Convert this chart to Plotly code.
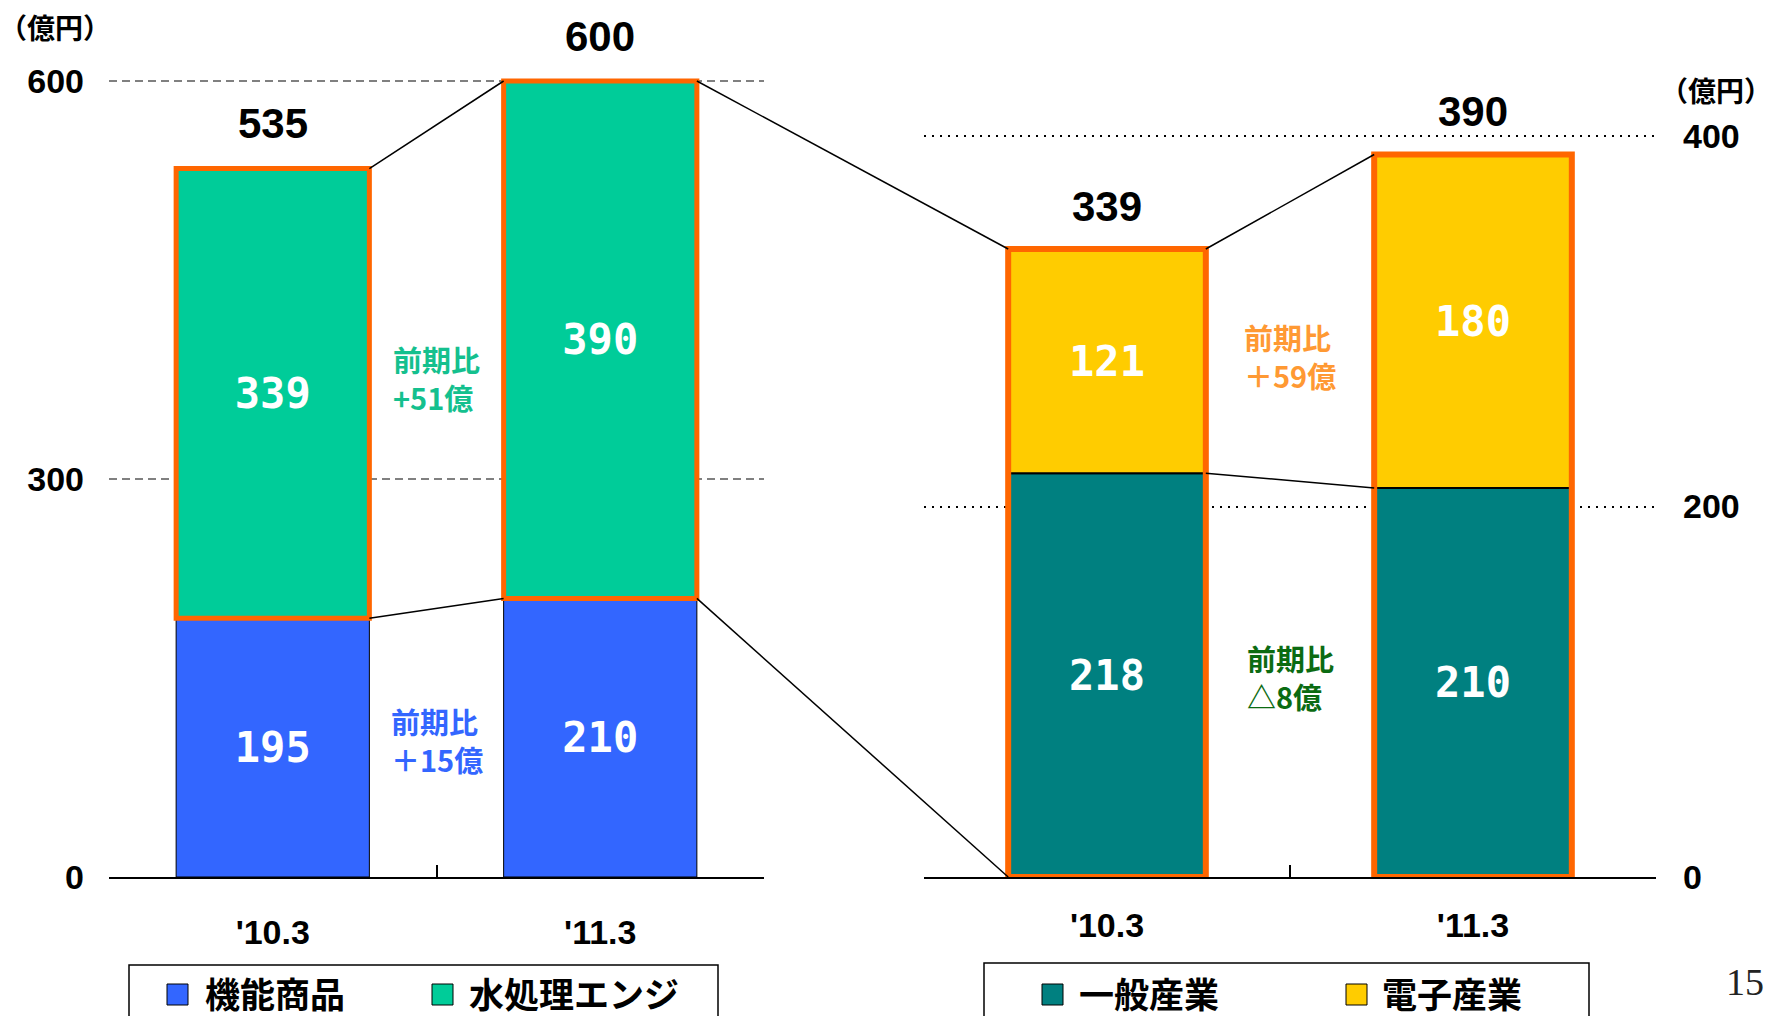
import plotly.graph_objects as go

# ---------------- data ----------------
categories = ["'10.3", "'11.3"]
left_series = ["機能商品", "水処理エンジ"]
functional = [195, 210]
water = [339, 390]
left_totals = [535, 600]
right_series = ["一般産業", "電子産業"]
general = [218, 210]
electronic = [121, 180]
right_totals = [339, 390]
left_ticks = [0, 300, 600]
right_ticks = [0, 200, 400]
left_notes = ["前期比<br>+51億", "前期比<br>＋15億"]
left_note_values = [376, 103]
right_notes = ["前期比<br>＋59億", "前期比<br>△8億"]
right_note_values = [281, 108]
unit_label = "（億円）"
page_number = "15"

# ---------------- layout constants ----------------
W, H = 1765, 1016
BASE_PX = 877
LX = (109, 764)
RX = (924, 1656)
L_RANGE = BASE_PX / ((BASE_PX - 81) / 600)
R_RANGE = BASE_PX / ((BASE_PX - 136) / 400)
LW, RW = 0.59, 0.54

BLUE, GREEN, TEAL, YELLOW, ORANGE = "#3366FF", "#00CC99", "#008080", "#FFCC00", "#FF6600"
NUM = "Liberation Sans, Arial, sans-serif"
MONO = "DejaVu Sans Mono, Liberation Mono, monospace"
JP = "Noto Sans CJK JP, sans-serif"


def px_x(dom, pos):
    return (dom[0] + (pos + 0.5) / len(categories) * (dom[1] - dom[0])) / W


def px_y(rng, val):
    return (H - BASE_PX + val / rng * BASE_PX) / H


left_top = [a + b for a, b in zip(functional, water)]
right_top = [a + b for a, b in zip(general, electronic)]

fig = go.Figure()
inside_font = dict(color="white", size=42, family=MONO, weight="bold")

fig.add_trace(go.Bar(x=categories, y=functional, base=[0, 0], width=LW, name=left_series[0],
                     marker=dict(color=BLUE, line=dict(color="black", width=1)),
                     text=[str(v) for v in functional], textposition="inside",
                     insidetextanchor="middle", textangle=0, constraintext="none",
                     textfont=inside_font, xaxis="x", yaxis="y", showlegend=False))
fig.add_trace(go.Bar(x=categories, y=water, base=functional, width=LW, name=left_series[1],
                     marker=dict(color=GREEN, line=dict(color=ORANGE, width=5)),
                     text=[str(v) for v in water], textposition="inside",
                     insidetextanchor="middle", textangle=0, constraintext="none",
                     textfont=inside_font, xaxis="x", yaxis="y", showlegend=False))
fig.add_trace(go.Bar(x=categories, y=general, base=[0, 0], width=RW, name=right_series[0],
                     marker=dict(color=TEAL, line=dict(color="black", width=2)),
                     text=[str(v) for v in general], textposition="inside",
                     insidetextanchor="middle", textangle=0, constraintext="none",
                     textfont=inside_font, xaxis="x2", yaxis="y2", showlegend=False))
fig.add_trace(go.Bar(x=categories, y=electronic, base=general, width=RW, name=right_series[1],
                     marker=dict(color=YELLOW, line=dict(color="black", width=2)),
                     text=[str(v) for v in electronic], textposition="inside",
                     insidetextanchor="middle", textangle=0, constraintext="none",
                     textfont=inside_font, xaxis="x2", yaxis="y2", showlegend=False))
fig.add_trace(go.Bar(x=categories, y=right_top, base=[0, 0], width=RW, name="total",
                     marker=dict(color="rgba(0,0,0,0)", line=dict(color=ORANGE, width=6)),
                     xaxis="x2", yaxis="y2", showlegend=False, hoverinfo="skip"))

shapes = []
# connector lines
conn = [
    (LX, L_RANGE, 0 + LW / 2, left_top[0], LX, L_RANGE, 1 - LW / 2, left_top[1]),
    (LX, L_RANGE, 0 + LW / 2, functional[0], LX, L_RANGE, 1 - LW / 2, functional[1]),
    (LX, L_RANGE, 1 + LW / 2, left_top[1], RX, R_RANGE, 0 - RW / 2, right_top[0]),
    (LX, L_RANGE, 1 + LW / 2, functional[1], RX, R_RANGE, 0 - RW / 2, 0),
    (RX, R_RANGE, 0 + RW / 2, right_top[0], RX, R_RANGE, 1 - RW / 2, right_top[1]),
    (RX, R_RANGE, 0 + RW / 2, general[0], RX, R_RANGE, 1 - RW / 2, general[1]),
]
for d0, r0, c0, v0, d1, r1, c1, v1 in conn:
    shapes.append(dict(type="line", xref="paper", yref="paper",
                       x0=px_x(d0, c0), y0=px_y(r0, v0), x1=px_x(d1, c1), y1=px_y(r1, v1),
                       line=dict(color="black", width=1.5), layer="above"))

annotations = []
for i, t in enumerate(left_totals):
    annotations.append(dict(x=categories[i], y=left_top[i], xref="x", yref="y", text=str(t),
                            showarrow=False, yanchor="middle", yshift=45,
                            font=dict(family=NUM, size=42, color="black", weight="bold")))
for i, t in enumerate(right_totals):
    annotations.append(dict(x=categories[i], y=right_top[i], xref="x2", yref="y2", text=str(t),
                            showarrow=False, yanchor="middle", yshift=43,
                            font=dict(family=NUM, size=42, color="black", weight="bold")))

note_colors_left = ["#14C08E", BLUE]
note_colors_right = ["#FF9933", "#0B6B12"]
for txt, v, c in zip(left_notes, left_note_values, note_colors_left):
    annotations.append(dict(x=0.5, y=v, xref="x", yref="y", text=txt, showarrow=False,
                            align="left", font=dict(family=JP, size=29, color=c, weight="bold")))
for txt, v, c in zip(right_notes, right_note_values, note_colors_right):
    annotations.append(dict(x=0.5, y=v, xref="x2", yref="y2", text=txt, showarrow=False,
                            align="left", font=dict(family=JP, size=29, color=c, weight="bold")))

annotations.append(dict(x=55 / W, y=1 - 27 / H, xref="paper", yref="paper", text=unit_label,
                        xanchor="center", yanchor="middle", showarrow=False,
                        font=dict(family=JP, size=28, color="black", weight="bold")))
annotations.append(dict(x=1716 / W, y=1 - 90 / H, xref="paper", yref="paper", text=unit_label,
                        xanchor="center", yanchor="middle", showarrow=False,
                        font=dict(family=JP, size=28, color="black", weight="bold")))
annotations.append(dict(x=1745 / W, y=1 - 982 / H, xref="paper", yref="paper", text=page_number,
                        xanchor="center", yanchor="middle", showarrow=False,
                        font=dict(family="Liberation Serif, serif", size=38, color="#222")))

# manual legends (boxes open at the bottom edge of the page)
legends = [
    ((129, 718, 965), [(167, 203, BLUE), (432, 467, GREEN)], left_series),
    ((984, 1589, 963), [(1042, 1077, TEAL), (1346, 1380, YELLOW)], right_series),
]
for (bx0, bx1, by0), items, names in legends:
    xa, xb, yt, yb = bx0 / W, bx1 / W, 1 - by0 / H, 0.0
    shapes.append(dict(type="path", xref="paper", yref="paper",
                       path=f"M{xa},{yb} L{xa},{yt} L{xb},{yt} L{xb},{yb}",
                       line=dict(color="black", width=1.5), layer="above"))
    for (sx, tx, col), name in zip(items, names):
        shapes.append(dict(type="rect", xref="paper", yref="paper", x0=sx / W, x1=(sx + 21) / W,
                           y0=1 - 984 / H, y1=1 - 1005 / H, line=dict(color="black", width=1),
                           fillcolor=col, layer="above"))
        annotations.append(dict(x=tx / W, y=1 - 992 / H, xref="paper", yref="paper", text=name,
                                showarrow=False, xanchor="left", yanchor="middle",
                                font=dict(family=JP, size=35, color="black", weight="bold")))

xcommon = dict(type="category", showline=True, linecolor="black", linewidth=2,
               ticks="inside", tickson="boundaries", ticklen=12, tickwidth=1.5, tickcolor="black",
               tickfont=dict(family=NUM, size=34, color="black", weight="bold"),
               showgrid=False, zeroline=False, fixedrange=True, automargin=False)

fig.update_layout(
    width=W, height=H, margin=dict(l=0, r=0, t=0, b=0, pad=0, autoexpand=False),
    paper_bgcolor="white", plot_bgcolor="rgba(0,0,0,0)",
    barmode="overlay", showlegend=False,
    xaxis=dict(domain=[LX[0] / W, LX[1] / W], anchor="y", range=[-0.5, 1.5],
               ticklabelstandoff=24, **xcommon),
    xaxis2=dict(domain=[RX[0] / W, RX[1] / W], anchor="y2", range=[-0.5, 1.5],
                ticklabelstandoff=17, **xcommon),
    yaxis=dict(domain=[(H - BASE_PX) / H, 1], range=[0, L_RANGE], anchor="x",
               tickvals=left_ticks, showline=False, zeroline=False, ticks="",
               showgrid=True, gridcolor="#808080", gridwidth=1.5, griddash="8px,5px",
               ticklabelstandoff=24, automargin=False,
               tickfont=dict(family=NUM, size=34, color="black", weight="bold"), fixedrange=True),
    yaxis2=dict(domain=[(H - BASE_PX) / H, 1], range=[0, R_RANGE], anchor="x2", side="right",
                tickvals=right_ticks, showline=False, zeroline=False, ticks="",
                showgrid=True, gridcolor="black", gridwidth=1.5, griddash="2px,6px",
                ticklabelstandoff=26, automargin=False,
                tickfont=dict(family=NUM, size=34, color="black", weight="bold"), fixedrange=True),
    shapes=shapes, annotations=annotations,
)

post = (
    "document.body.style.margin='0';"
    "document.body.style.overflow='hidden';"
)
fig.write_html("out.html", config=dict(displayModeBar=False), post_script=post)
